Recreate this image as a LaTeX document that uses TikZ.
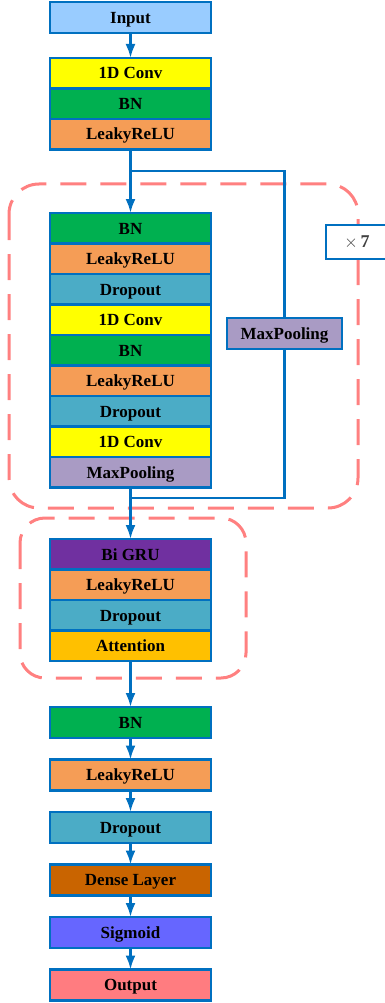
\documentclass[tikz,border=0pt]{standalone}
\usepackage{fontspec}
\setmainfont{Liberation Serif}
\usetikzlibrary{arrows.meta,positioning}

\definecolor{lineblue}{HTML}{0070C0}
\definecolor{groupred}{HTML}{FF8080}
\definecolor{textgray}{HTML}{404040}
\definecolor{cInput}{HTML}{99CCFF}
\definecolor{cConv}{HTML}{FFFF00}
\definecolor{cBN}{HTML}{00B050}
\definecolor{cRelu}{HTML}{F59D56}
\definecolor{cDrop}{HTML}{4BACC6}
\definecolor{cPool}{HTML}{A99BC4}
\definecolor{cGRU}{HTML}{7030A0}
\definecolor{cAttn}{HTML}{FFC000}
\definecolor{cDense}{HTML}{C96400}
\definecolor{cSigm}{HTML}{6666FF}
\definecolor{cOut}{HTML}{FF7C80}

\begin{document}
\begin{tikzpicture}[
      x=1pt,y=-1pt,
      node distance=0pt,
      layer/.style={rectangle,draw=lineblue,line width=2.2pt,outer sep=0pt,inner sep=0pt,minimum width=161pt,minimum height=30.5pt,
                    text height=11.5pt,text depth=0pt,font=\fontsize{17}{17}\selectfont\bfseries},
      single/.style={layer,minimum height=31pt},
      group/.style={draw=groupred,line width=3pt,dash pattern=on 26pt off 14pt,rounded corners=#1},
      flow/.style={->,draw=lineblue,line width=2.4pt},
      link/.style={draw=lineblue,line width=2.4pt},
      >={Latex[length=14pt,width=10pt]}
    ]
    \useasboundingbox (0,0) rectangle (384,1003);

    % repeated blocks
    \draw[group=30pt] (9,184) rectangle (358,508);
    \draw[group=25pt] (20,518) rectangle (246,678);

    % stem
    \node[single,fill=cInput] (input) at (130.5,17.5) {Input};
    \node[layer,fill=cConv,below=25pt of input] (conv0) {1D Conv};
    \node[layer,fill=cBN,below=of conv0] (bn0) {BN};
    \node[layer,fill=cRelu,below=of bn0] (relu0) {LeakyReLU};

    % residual block
    \node[layer,fill=cBN,below=63.5pt of relu0] (bn1) {BN};
    \node[layer,fill=cRelu,below=of bn1] (relu1) {LeakyReLU};
    \node[layer,fill=cDrop,below=of relu1] (drop1) {Dropout};
    \node[layer,fill=cConv,below=of drop1] (conv1) {1D Conv};
    \node[layer,fill=cBN,below=of conv1] (bn2) {BN};
    \node[layer,fill=cRelu,below=of bn2] (relu2) {LeakyReLU};
    \node[layer,fill=cDrop,below=of relu2] (drop2) {Dropout};
    \node[layer,fill=cConv,below=of drop2] (conv2) {1D Conv};
    \node[layer,fill=cPool,below=of conv2] (pool1) {MaxPooling};
    \node[layer,fill=cPool,minimum width=115pt,minimum height=31pt] (pool2) at (284.5,333.5) {MaxPooling};
    \draw[draw=lineblue,line width=2pt,fill=white] (326,225) rectangle (400,259);
    \node[font=\fontsize{18}{18}\selectfont,text=textgray] (times) at (357,242) {$\times$\,\textbf{7}};

    % recurrent block
    \node[layer,fill=cGRU,below=51.5pt of pool1] (gru) {Bi GRU};
    \node[layer,fill=cRelu,below=of gru] (relu3) {LeakyReLU};
    \node[layer,fill=cDrop,below=of relu3] (drop3) {Dropout};
    \node[layer,fill=cAttn,below=of drop3] (attn) {Attention};

    % head
    \node[single,fill=cBN,below=46pt of attn] (bn3) {BN};
    \node[single,fill=cRelu,below=21.5pt of bn3] (relu4) {LeakyReLU};
    \node[single,fill=cDrop,below=21.5pt of relu4] (drop4) {Dropout};
    \node[single,fill=cDense,below=21.5pt of drop4] (dense) {Dense Layer};
    \node[single,fill=cSigm,below=21.5pt of dense] (sigm) {Sigmoid};
    \node[single,fill=cOut,below=21.5pt of sigm] (output) {Output};

    \coordinate (split) at ([yshift=-21.5pt]relu0.south);
    \coordinate (merge) at ([yshift=-10.5pt]pool1.south);

    \draw[flow] (input) -- (conv0);
    \draw[flow] (relu0) -- (bn1);
    \draw[link] (split) -| (pool2.north);
    \draw[link] (pool2.south) |- (merge);
    \draw[flow] (pool1) -- (gru);
    \draw[flow] (attn) -- (bn3);
    \foreach \a/\b in {bn3/relu4,relu4/drop4,drop4/dense,dense/sigm,sigm/output}
      \draw[flow] (\a) -- (\b);
  \end{tikzpicture}
\end{document}
